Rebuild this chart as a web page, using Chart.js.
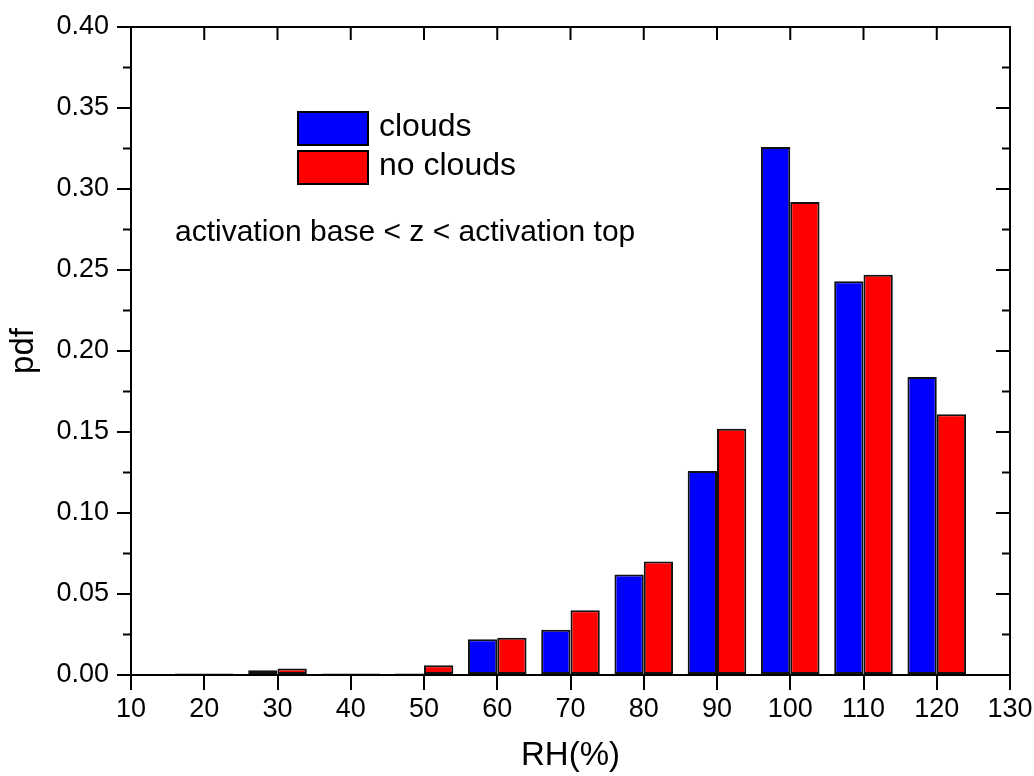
<!DOCTYPE html>
<html>
<head>
<meta charset="utf-8">
<script src="https://cdn.jsdelivr.net/npm/chart.js@4.4.9/dist/chart.umd.min.js"></script>
<style>
  body { margin: 0; background: #fff; }
  #wrap { position: relative; width: 1034px; height: 776px; font-family: "Liberation Sans", Arial, sans-serif; }
  .box { position: absolute; width: 68px; height: 31px; border: 2px solid #000; }
  .lbl { position: absolute; font-size: 32px; line-height: 32px; color: #000; white-space: nowrap; }
  #note { position: absolute; left: 175px; top: 216px; font-size: 30px; line-height: 30px; white-space: nowrap; }
</style>
</head>
<body>
<div id="wrap">
  <canvas id="myChart" width="1034" height="776"></canvas>
  <div class="box" style="left:297px; top:111px; background:#0000ff;"></div>
  <div class="lbl" style="left:379px; top:109px;">clouds</div>
  <div class="box" style="left:297px; top:150px; background:#ff0000;"></div>
  <div class="lbl" style="left:379px; top:148px;">no clouds</div>
  <div id="note">activation base &lt; z &lt; activation top</div>
</div>
<script>
const rhBins = [20, 30, 40, 50, 60, 70, 80, 90, 100, 110, 120];
const cloudsPdf = [0.001, 0.003, 0.001, 0.001, 0.022, 0.028, 0.062, 0.126, 0.326, 0.243, 0.184];
const noCloudsPdf = [0.001, 0.004, 0.001, 0.006, 0.023, 0.040, 0.070, 0.152, 0.292, 0.247, 0.161];
const xTicks = [10, 20, 30, 40, 50, 60, 70, 80, 90, 100, 110, 120, 130];
const yTicks = [0, 0.05, 0.10, 0.15, 0.20, 0.25, 0.30, 0.35, 0.40];

const FONT = "'Liberation Sans', Arial, sans-serif";

// left/bottom box size so the plot area lands where the original one is
function fixX(s) { s.height = 101; s.paddingLeft = 0; s.paddingRight = 0; }
function fixY(s) { s.width = 131; s.paddingTop = 0; s.paddingBottom = 0; }

// top and right axis lines, inward ticks, minor ticks
const frame = {
  id: "frame",
  afterDraw(chart) {
    const { ctx, chartArea: a, scales: { x, y } } = chart;
    ctx.save();
    ctx.strokeStyle = "#000";
    ctx.lineWidth = 2;
    ctx.beginPath();
    ctx.moveTo(a.left, a.top);
    ctx.lineTo(a.right, a.top);
    ctx.lineTo(a.right, a.bottom);
    xTicks.forEach((v) => {
      const px = x.getPixelForValue(v);
      ctx.moveTo(px, a.top);
      ctx.lineTo(px, a.top + 13);
    });
    for (let v = 0; v <= 0.4001; v += 0.025) {
      const py = y.getPixelForValue(v);
      const major = Math.round(v * 1000) % 50 === 0;
      ctx.moveTo(a.right, py);
      ctx.lineTo(a.right - (major ? 14 : 8), py);
      if (!major) {
        ctx.moveTo(a.left, py);
        ctx.lineTo(a.left - 8, py);
      }
    }
    ctx.stroke();
    ctx.restore();
  },
};

new Chart(document.getElementById("myChart"), {
  type: "bar",
  data: {
    datasets: [
      {
        label: "clouds",
        data: rhBins.map((v, i) => ({ x: v, y: cloudsPdf[i] })),
        backgroundColor: "#0000ff",
        borderColor: "#111",
        borderWidth: 2,
        borderSkipped: false,
        categoryPercentage: 0.8,
        barPercentage: 1.0,
      },
      {
        label: "no clouds",
        data: rhBins.map((v, i) => ({ x: v, y: noCloudsPdf[i] })),
        backgroundColor: "#ff0000",
        borderColor: "#111",
        borderWidth: 2,
        borderSkipped: false,
        categoryPercentage: 0.8,
        barPercentage: 1.0,
      },
    ],
  },
  options: {
    responsive: false,
    animation: false,
    layout: { padding: { left: 0, right: 24, top: 27, bottom: 0 } },
    plugins: { legend: { display: false }, tooltip: { enabled: false } },
    scales: {
      x: {
        type: "linear",
        min: 10,
        max: 130,
        offset: false,
        afterFit: fixX,
        afterBuildTicks: (s) => { s.ticks = xTicks.map((v) => ({ value: v })); },
        grid: { display: true, drawOnChartArea: false, offset: false, color: "#000", lineWidth: 2, tickLength: 15 },
        border: { display: true, color: "#000", width: 2 },
        ticks: { color: "#000", font: { family: FONT, size: 27 }, padding: 3, maxRotation: 0 },
        title: { display: true, text: "RH(%)", color: "#000", font: { family: FONT, size: 33 }, padding: { bottom: 0 } },
      },
      y: {
        min: 0,
        max: 0.4,
        afterFit: fixY,
        afterBuildTicks: (s) => { s.ticks = yTicks.map((v) => ({ value: v })); },
        grid: { display: true, drawOnChartArea: false, color: "#000", lineWidth: 2, tickLength: 14 },
        border: { display: true, color: "#000", width: 2 },
        ticks: { color: "#000", font: { family: FONT, size: 27 }, padding: 8, callback: (v) => v.toFixed(2) },
        title: { display: true, text: "pdf", color: "#000", font: { family: FONT, size: 33 }, padding: { top: 4 } },
      },
    },
  },
  plugins: [frame],
});
</script>
</body>
</html>
